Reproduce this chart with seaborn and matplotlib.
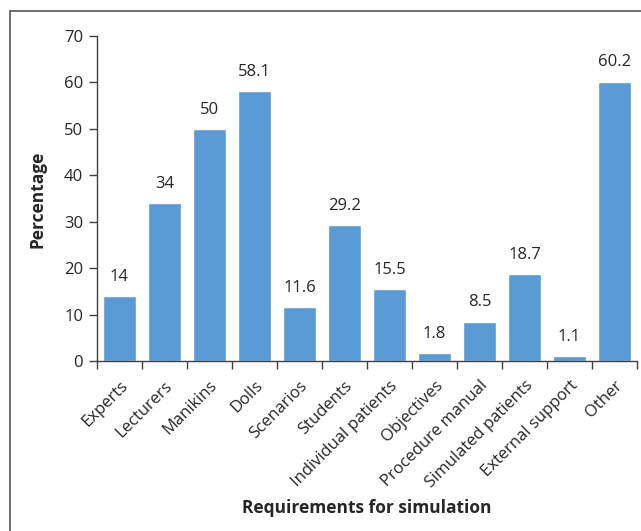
import matplotlib
matplotlib.use("Agg")
import matplotlib.pyplot as plt
import seaborn as sns
import pandas as pd
from matplotlib.patches import Rectangle

categories = ["Experts", "Lecturers", "Manikins", "Dolls", "Scenarios", "Students",
              "Individual patients", "Objectives", "Procedure manual",
              "Simulated patients", "External support", "Other"]
values = [14, 34, 50, 58.1, 11.6, 29.2, 15.5, 1.8, 8.5, 18.7, 1.1, 60.2]
yticks = [0, 10, 20, 30, 40, 50, 60, 70]

sns.set_theme(style="white")
plt.rcParams["font.family"] = ["Open Sans", "DejaVu Sans"]

text_color = "#262626"
bar_color = "#5B9BD5"
axis_color = "#404040"

df = pd.DataFrame({"category": categories, "value": values})

fig = plt.figure(figsize=(6.41, 5.31), dpi=100)
ax = fig.add_axes([97 / 641, 1 - 361 / 531, 540 / 641, 325 / 531])

sns.barplot(data=df, x="category", y="value", color=bar_color, width=0.73,
            saturation=1, ax=ax)

ax.set_xlim(-0.5, len(categories) - 0.5)
ax.set_ylim(0, 70)
ax.set_yticks(yticks)
ax.set_yticklabels([str(t) for t in yticks], fontsize=12, color=text_color)

# category boundaries carry the tick marks
ax.set_xticks([i - 0.5 for i in range(len(categories) + 1)], minor=False)
ax.set_xticklabels([])
ax.tick_params(axis="x", which="major", length=6, width=1, color=axis_color,
               direction="out", bottom=True)
ax.tick_params(axis="y", length=6, width=1, color=axis_color, direction="out",
               left=True, pad=4)

for i, lab in enumerate(categories):
    ax.annotate(lab, xy=(i, 0), xycoords=("data", "data"),
                xytext=(0, -12), textcoords="offset points",
                rotation=45, ha="right", va="top", rotation_mode="anchor",
                fontsize=12, color=text_color)

for i, v in enumerate(values):
    ax.annotate(f"{v:g}", xy=(i, v), xytext=(0, 8), textcoords="offset points",
                ha="center", va="bottom", fontsize=12, color=text_color)

for side in ["top", "right"]:
    ax.spines[side].set_visible(False)
for side in ["left", "bottom"]:
    ax.spines[side].set_color(axis_color)
    ax.spines[side].set_linewidth(1)

ax.set_xlabel("")
ax.set_ylabel("")
fig.text(367 / 641, 1 - 508 / 531, "Requirements for simulation", ha="center",
         va="center", fontsize=12.5, fontweight="bold", color=text_color)
fig.text(38 / 641, 1 - 199 / 531, "Percentage", ha="center", va="center",
         rotation=90, fontsize=12.5, fontweight="bold", color=text_color)

# outer frame
fig.patches.append(Rectangle((10 / 641, -0.05), 1.1, 1 - 11 / 531 + 0.05,
                             transform=fig.transFigure, fill=False,
                             edgecolor="#555555", linewidth=1.2))

fig.savefig("out.png", dpi=100)
